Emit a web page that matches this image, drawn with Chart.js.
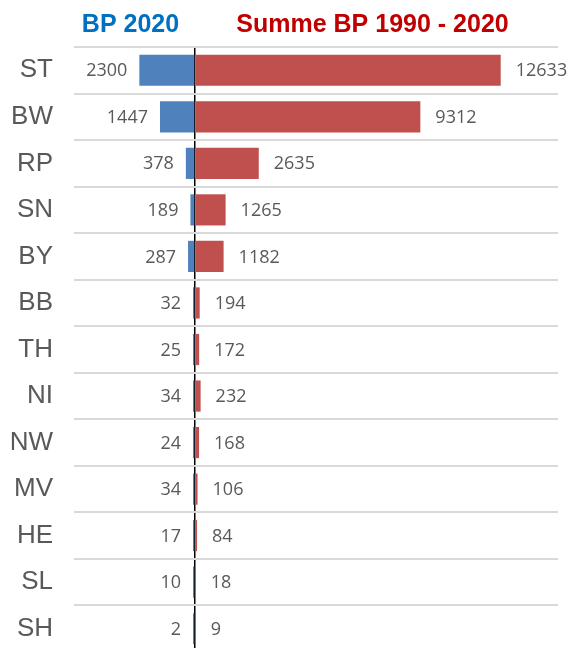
<!DOCTYPE html>
<html>
<head>
<meta charset="utf-8">
<script src="https://cdn.jsdelivr.net/npm/chart.js@4"></script>
<style>
  html, body { margin: 0; padding: 0; background: #ffffff; overflow: hidden; }
  canvas { display: block; }
</style>
</head>
<body>
<canvas id="bpChart" width="570" height="652"></canvas>
<script>
// Data
const regions = ['ST', 'BW', 'RP', 'SN', 'BY', 'BB', 'TH', 'NI', 'NW', 'MV', 'HE', 'SL', 'SH'];
const bp2020 = [2300, 1447, 378, 189, 287, 32, 25, 34, 24, 34, 17, 10, 2];
const bpSum = [12633, 9312, 2635, 1265, 1182, 194, 172, 232, 168, 106, 84, 18, 9];
const seriesNames = ['BP 2020', 'Summe BP 1990 - 2020'];

const blueColor = '#4f81bd';
const redColor = '#c0504d';
const textGray = '#595959';

// value labels next to bars
const barLabels = {
    id: 'barLabels',
    afterDatasetsDraw(chart) {
        const ctx = chart.ctx;
        ctx.save();
        ctx.font = "18px 'Open Sans', sans-serif";
        ctx.fillStyle = textGray;
        ctx.textBaseline = 'middle';
        chart.getDatasetMeta(0).data.forEach((bar, i) => {
            ctx.textAlign = 'right';
            ctx.fillText(String(bp2020[i]), Math.min(bar.x, bar.base) - 12, bar.y + 1);
        });
        chart.getDatasetMeta(1).data.forEach((bar, i) => {
            ctx.textAlign = 'left';
            ctx.fillText(String(bpSum[i]), Math.max(bar.x, bar.base) + 15, bar.y + 1);
        });
        ctx.restore();
    }
};

// coloured headers above each side
const sideTitles = {
    id: 'sideTitles',
    afterDraw(chart) {
        const ctx = chart.ctx;
        const area = chart.chartArea;
        const zeroX = chart.scales.x.getPixelForValue(0);
        ctx.save();
        ctx.font = "bold 25px 'Liberation Sans', Arial, sans-serif";
        ctx.textBaseline = 'middle';
        ctx.textAlign = 'center';
        ctx.fillStyle = '#0070c0';
        ctx.fillText(seriesNames[0], (area.left + zeroX) / 2 - 4, 25);
        ctx.fillStyle = '#c00000';
        ctx.fillText(seriesNames[1], (zeroX + area.right) / 2 - 4, 25);
        ctx.restore();
    }
};

const ctx = document.getElementById('bpChart');

new Chart(ctx, {
    type: 'bar',
    data: {
        labels: regions,
        datasets: [
            {
                label: seriesNames[0],
                data: bp2020.map(v => -v),
                backgroundColor: blueColor,
                minBarLength: 2,
                barPercentage: 0.67,
                categoryPercentage: 1
            },
            {
                label: seriesNames[1],
                data: bpSum,
                backgroundColor: redColor,
                barPercentage: 0.67,
                categoryPercentage: 1
            }
        ]
    },
    options: {
        indexAxis: 'y',
        responsive: false,
        animation: false,
        layout: {
            padding: { top: 47, right: 12, bottom: 0, left: 0 }
        },
        plugins: {
            legend: { display: false },
            tooltip: { enabled: false }
        },
        scales: {
            x: {
                stacked: true,
                min: -5000,
                max: 15000,
                afterFit: s => { s.height = 0; s.paddingLeft = 0; s.paddingRight = 0; },
                ticks: { display: false, stepSize: 5000 },
                grid: {
                    drawTicks: false,
                    lineWidth: 1.5,
                    color: c => (c.tick && c.tick.value === 0) ? '#000000' : 'rgba(0,0,0,0)'
                },
                border: { display: false }
            },
            y: {
                stacked: true,
                afterFit: s => { s.width = 74; s.paddingTop = 0; s.paddingBottom = 0; },
                ticks: {
                    padding: 21,
                    color: textGray,
                    font: { family: "'Liberation Sans', Arial, sans-serif", size: 26 }
                },
                grid: {
                    drawTicks: false,
                    color: '#d9d9d9',
                    lineWidth: 2
                },
                border: { display: false }
            }
        }
    },
    plugins: [barLabels, sideTitles]
});
</script>
</body>
</html>
